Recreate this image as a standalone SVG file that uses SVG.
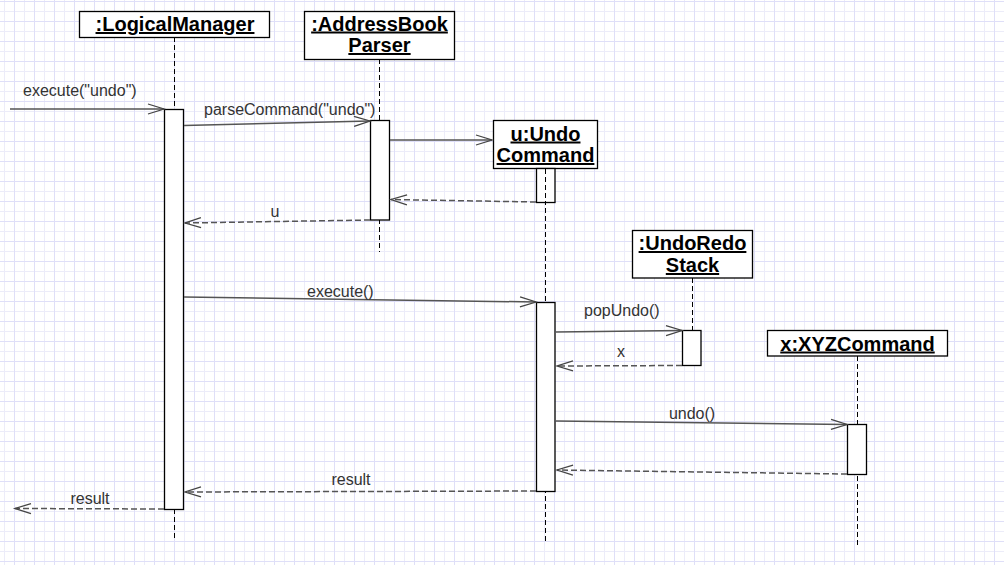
<svg xmlns="http://www.w3.org/2000/svg" width="1004" height="565" viewBox="0 0 1004 565">
  <defs>
    <pattern id="grid" patternUnits="userSpaceOnUse" x="0" y="0" width="20" height="20">
      <line x1="4.5" y1="0" x2="4.5" y2="20" stroke="#ececf9" stroke-width="1"/>
      <line x1="0" y1="11.5" x2="20" y2="11.5" stroke="#ececf9" stroke-width="1"/>
      <line x1="14.5" y1="0" x2="14.5" y2="20" stroke="#dfdff8" stroke-width="1"/>
      <line x1="0" y1="1.5" x2="20" y2="1.5" stroke="#dfdff8" stroke-width="1"/>
    </pattern>
    <marker id="open" markerUnits="userSpaceOnUse" markerWidth="20" markerHeight="14" refX="0" refY="0" viewBox="-18 -7 20 14" orient="auto" overflow="visible">
      <path d="M -16 -5 L 0 0 L -16 5" fill="none" stroke="#444" stroke-width="1.3" stroke-dasharray="none"/>
    </marker>
  </defs>
  <style>
    .head { fill: #ffffff; stroke: #000000; stroke-width: 1.3; }
    .htxt { font-family: "Liberation Sans", Arial, sans-serif; font-size: 20px; font-weight: bold; fill: #000000; text-anchor: middle; text-decoration: underline; }
    .life { stroke: #000000; stroke-width: 1; stroke-dasharray: 5 3; fill: none; }
    .act { fill: #ffffff; stroke: #000000; stroke-width: 1.3; }
    .msg { stroke: #555555; stroke-width: 1.5; fill: none; marker-end: url(#open); }
    .ret { stroke: #555555; stroke-width: 1.5; fill: none; stroke-dasharray: 6 3; marker-end: url(#open); }
    .lbl { font-family: "Liberation Sans", Arial, sans-serif; font-size: 16px; fill: #333333; }
  </style>
  <rect x="0" y="0" width="1004" height="565" fill="#ffffff"/>
  <rect x="0" y="0" width="1004" height="565" fill="url(#grid)"/>

  <g id="lifelines">
    <line class="life" x1="174.5" y1="37" x2="174.5" y2="540"/>
    <line class="life" x1="379.5" y1="59" x2="379.5" y2="252"/>
    <line class="life" x1="545.5" y1="168" x2="545.5" y2="541"/>
    <line class="life" x1="692.5" y1="278" x2="692.5" y2="330"/>
    <line class="life" x1="857.5" y1="356" x2="857.5" y2="547"/>
  </g>

  <g id="LogicalManager">
    <rect class="head" x="79.5" y="11.5" width="190" height="26"/>
    <text class="htxt" x="175" y="31">:LogicalManager</text>
    <rect class="act" x="164.5" y="109.5" width="19" height="400"/>
  </g>

  <g id="AddressBookParser">
    <rect class="head" x="304.5" y="11.5" width="150" height="48"/>
    <text class="htxt" x="379.5" y="30.5">:AddressBook</text>
    <text class="htxt" x="379.5" y="52">Parser</text>
    <rect class="act" x="370.5" y="120.5" width="19" height="99.5"/>
  </g>

  <g id="UndoCommand">
    <rect class="head" x="493.5" y="120.5" width="104" height="48"/>
    <text class="htxt" x="545.5" y="140.5">u:Undo</text>
    <text class="htxt" x="545.5" y="162">Command</text>
    <rect class="act" x="536.5" y="168.5" width="18.5" height="34"/>
    <line class="life" x1="545.5" y1="169" x2="545.5" y2="202"/>
    <rect class="act" x="536.5" y="302.5" width="18.5" height="189"/>
  </g>

  <g id="UndoRedoStack">
    <rect class="head" x="632.5" y="230.5" width="120" height="47.5"/>
    <text class="htxt" x="692.5" y="250">:UndoRedo</text>
    <text class="htxt" x="692.5" y="272">Stack</text>
    <rect class="act" x="682.5" y="330.5" width="18.5" height="35"/>
  </g>

  <g id="XYZCommand">
    <rect class="head" x="767.5" y="330.5" width="180" height="25.5"/>
    <text class="htxt" x="857.5" y="350.5">x:XYZCommand</text>
    <rect class="act" x="847.5" y="424.5" width="19" height="50"/>
  </g>

  <g id="connectors">
    <line class="msg" x1="10" y1="109" x2="164" y2="109"/>
    <line class="msg" x1="184" y1="125.5" x2="370" y2="121"/>
    <line class="msg" x1="390" y1="140" x2="492" y2="140"/>
    <line class="ret" x1="536" y1="202" x2="391" y2="199.5"/>
    <line class="ret" x1="370" y1="220" x2="185" y2="223"/>
    <line class="msg" x1="184" y1="297" x2="536" y2="302"/>
    <line class="msg" x1="556" y1="332" x2="682" y2="330.5"/>
    <line class="ret" x1="682" y1="365.5" x2="557" y2="366"/>
    <line class="msg" x1="556" y1="421" x2="847" y2="424.5"/>
    <line class="ret" x1="847" y1="474" x2="557" y2="470"/>
    <line class="ret" x1="536" y1="491" x2="185" y2="492"/>
    <line class="ret" x1="164" y1="509" x2="15" y2="508.5"/>
  </g>

  <g id="labels">
    <text class="lbl" x="23" y="96">execute("undo")</text>
    <text class="lbl" x="204" y="114.5">parseCommand("undo")</text>
    <text class="lbl" x="275" y="216.5" text-anchor="middle">u</text>
    <text class="lbl" x="307" y="296.5">execute()</text>
    <text class="lbl" x="584" y="316">popUndo()</text>
    <text class="lbl" x="621" y="357" text-anchor="middle">x</text>
    <text class="lbl" x="692" y="419" text-anchor="middle">undo()</text>
    <text class="lbl" x="351" y="484.5" text-anchor="middle">result</text>
    <text class="lbl" x="90" y="504" text-anchor="middle">result</text>
  </g>
</svg>
